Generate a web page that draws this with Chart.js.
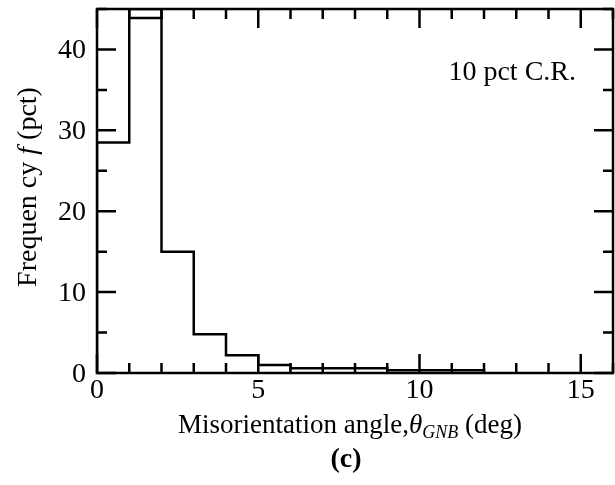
<!DOCTYPE html>
<html>
<head>
<meta charset="utf-8">
<script src="https://cdn.jsdelivr.net/npm/chart.js@4.4.1/dist/chart.umd.min.js"></script>
<style>
  html, body { margin: 0; padding: 0; background: #fff; }
  #wrap { width: 615px; height: 485px; }
</style>
</head>
<body>
<div id="wrap"><canvas id="histChart" width="615" height="485"></canvas></div>
<script>
// Histogram of misorientation angles (bin edges in deg, frequency in pct)
const binEdges = [0, 1, 2, 3, 4, 5, 6, 7, 8, 9, 10, 11, 12];
const frequency = [28.5, 43.9, 15.0, 4.8, 2.2, 1.0, 0.6, 0.6, 0.6, 0.35, 0.35, 0.35];
const xTickLabels = [0, 5, 10, 15];
const yTickLabels = [0, 10, 20, 30, 40];
const xMax = 16;
const yMax = 45;
const annotation = '10 pct C.R.';
const panelLabel = '(c)';

const SERIF = '"Liberation Serif", "Times New Roman", serif';

// step outline: rise from the axis, one point per left bin edge, drop back at the end
const points = [{ x: binEdges[0], y: 0 }];
frequency.forEach((f, i) => points.push({ x: binEdges[i], y: f }));
points.push({ x: binEdges[binEdges.length - 1], y: frequency[frequency.length - 1] });
points.push({ x: binEdges[binEdges.length - 1], y: 0 });

// the tallest bin's side walls run on up to the frame in the original
const peak = frequency.indexOf(Math.max(...frequency));
const peakWalls = [
    { x: binEdges[peak], y: frequency[peak] },
    { x: binEdges[peak], y: yMax },
    { x: binEdges[peak + 1], y: yMax },
    { x: binEdges[peak + 1], y: frequency[peak] }
];

function drawRich(ctx, parts, x, y, align) {
    let total = 0;
    parts.forEach(p => { ctx.font = p.font; total += ctx.measureText(p.t).width; });
    let left = x;
    if (align === 'center') left = x - total / 2;
    if (align === 'right') left = x - total;
    ctx.textAlign = 'left';
    ctx.textBaseline = 'alphabetic';
    let cx = left;
    parts.forEach(p => {
        ctx.font = p.font;
        ctx.fillText(p.t, cx, y + (p.dy || 0));
        cx += ctx.measureText(p.t).width;
    });
}

const framePlugin = {
    id: 'frame',
    afterDraw(chart) {
        const ctx = chart.ctx;
        const area = chart.chartArea;
        const xs = chart.scales.x;
        const ys = chart.scales.y;
        ctx.save();
        ctx.strokeStyle = '#000';
        ctx.fillStyle = '#000';
        ctx.lineWidth = 2.5;
        ctx.lineCap = 'butt';

        // inner ticks on all four sides
        ctx.beginPath();
        for (let v = xs.min; v <= xs.max; v += 1) {
            const px = xs.getPixelForValue(v);
            const len = v % 5 === 0 ? 19 : 10;
            ctx.moveTo(px, area.bottom); ctx.lineTo(px, area.bottom - len);
            ctx.moveTo(px, area.top); ctx.lineTo(px, area.top + len);
        }
        for (let v = ys.min; v <= ys.max; v += 5) {
            const py = ys.getPixelForValue(v);
            const len = v % 10 === 0 ? 19 : 10;
            ctx.moveTo(area.left, py); ctx.lineTo(area.left + len, py);
            ctx.moveTo(area.right, py); ctx.lineTo(area.right - len, py);
        }
        ctx.stroke();
        ctx.strokeRect(area.left, area.top, area.right - area.left, area.bottom - area.top);

        const f28 = '28px ' + SERIF;
        // tick labels
        xTickLabels.forEach(v => {
            drawRich(ctx, [{ t: String(v), font: f28 }], xs.getPixelForValue(v), area.bottom + 25, 'center');
        });
        yTickLabels.forEach(v => {
            drawRich(ctx, [{ t: String(v), font: f28 }], area.left - 11, ys.getPixelForValue(v) + 9, 'right');
        });

        // x axis title
        drawRich(ctx, [
            { t: 'Misorientation angle,', font: '27px ' + SERIF },
            { t: 'θ', font: 'italic 27px ' + SERIF },
            { t: 'GNB', font: 'italic 18px ' + SERIF, dy: 5 },
            { t: ' (deg)', font: '27px ' + SERIF }
        ], 350, 433, 'center');

        // panel label
        drawRich(ctx, [{ t: panelLabel, font: 'bold 28px ' + SERIF }], 346, 467, 'center');

        // annotation
        drawRich(ctx, [{ t: annotation, font: f28 }], 576, 80, 'right');

        // y axis title (rotated)
        ctx.save();
        ctx.translate(36, 187);
        ctx.rotate(-Math.PI / 2);
        drawRich(ctx, [
            { t: 'Frequen cy ', font: f28 },
            { t: 'f', font: 'italic 28px ' + SERIF },
            { t: ' (pct)', font: f28 }
        ], 0, 0, 'center');
        ctx.restore();

        ctx.restore();
    }
};

new Chart(document.getElementById('histChart').getContext('2d'), {
    type: 'line',
    data: {
        datasets: [{
            label: 'Frequency',
            data: points,
            stepped: 'before',
            borderColor: '#000',
            borderWidth: 2.5,
            pointRadius: 0,
            fill: false
        }, {
            label: 'Peak bin walls',
            data: peakWalls,
            borderColor: '#000',
            borderWidth: 2.5,
            pointRadius: 0,
            fill: false
        }]
    },
    options: {
        responsive: false,
        animation: false,
        layout: { padding: { left: 97, right: 2, top: 9, bottom: 112 } },
        plugins: { legend: { display: false }, tooltip: { enabled: false } },
        scales: {
            x: { type: 'linear', min: 0, max: xMax, display: false },
            y: { type: 'linear', min: 0, max: yMax, display: false }
        }
    },
    plugins: [framePlugin]
});
</script>
</body>
</html>
